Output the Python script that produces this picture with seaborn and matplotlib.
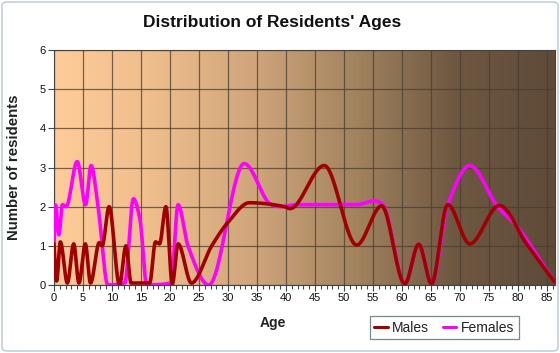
import numpy as np
import pandas as pd
import matplotlib
matplotlib.use("Agg")
import matplotlib.pyplot as plt
import seaborn as sns
from matplotlib.patches import FancyBboxPatch
from matplotlib.colors import LinearSegmentedColormap

# ---- data (key points: age, number of residents) ----
male_ages = [0, 0.45, 1.1, 2.3, 3.4, 4.3, 5.4, 6.3, 7.8, 8.3, 9.5, 11.3, 12.4, 13.3,
             16.5, 17.5, 18.2, 19.3, 20.4, 21.4, 23.7, 27.2, 30.0, 33.7, 39.8, 40.7,
             46.6, 52.2, 56.5, 60.5, 62.9, 65.1, 67.9, 71.7, 76.8, 81.5, 86.3]
male_counts = [1.05, 0.1, 1.1, 0.05, 1.05, 0.05, 1.05, 0.05, 1.08, 1.0, 2.0, 0.0, 1.0, 0.05,
               0.05, 1.1, 1.05, 2.0, 0.02, 1.05, 0.05, 1.0, 1.6, 2.1, 2.0, 1.95,
               3.05, 1.02, 2.02, 0.03, 1.04, 0.03, 2.05, 1.05, 2.03, 1.05, 0.08]

female_ages = [0, 0.25, 0.85, 1.45, 2.1, 4.0, 5.45, 6.4, 7.6, 9.3, 12.2, 13.7, 14.8,
               16.0, 20.2, 21.4, 23.1, 26.7, 32.8, 37.5, 39.2, 41.8, 52.1, 55.3, 56.7,
               60.5, 62.9, 65.1, 67.9, 71.7, 76.5, 79.5, 86.3]
female_counts = [1.0, 2.05, 1.28, 2.05, 2.0, 3.15, 2.05, 3.05, 2.0, 0.0, 0.05, 2.2, 1.7,
                 0.0, 0.05, 2.05, 1.0, 0.0, 3.1, 2.05, 2.0, 2.05, 2.05, 2.15, 2.05,
                 0.03, 1.04, 0.03, 2.05, 3.05, 2.0, 1.55, 0.08]

x_ticks = list(range(0, 90, 5))
y_ticks = list(range(0, 7))
title = "Distribution of Residents' Ages"
x_label = "Age"
y_label = "Number of residents"
series_names = ["Males", "Females"]
series_colors = {"Males": "#a00000", "Females": "#ff00ff"}


def pchip(x, y, xs):
    x = np.asarray(x, float)
    y = np.asarray(y, float)
    h = np.diff(x)
    d = np.diff(y) / h
    n = len(x)
    m = np.zeros(n)
    for k in range(1, n - 1):
        if d[k - 1] * d[k] > 0:
            w1 = 2 * h[k] + h[k - 1]
            w2 = h[k] + 2 * h[k - 1]
            m[k] = (w1 + w2) / (w1 / d[k - 1] + w2 / d[k])
    m[0] = d[0]
    m[-1] = d[-1]
    idx = np.clip(np.searchsorted(x, xs) - 1, 0, n - 2)
    t = (xs - x[idx]) / h[idx]
    h00 = 2 * t**3 - 3 * t**2 + 1
    h10 = t**3 - 2 * t**2 + t
    h01 = -2 * t**3 + 3 * t**2
    h11 = t**3 - t**2
    return (h00 * y[idx] + h10 * h[idx] * m[idx] + h01 * y[idx + 1]
            + h11 * h[idx] * m[idx + 1])


frames = []
for name, ages, counts in [("Females", female_ages, female_counts),
                           ("Males", male_ages, male_counts)]:
    xs = np.linspace(ages[0], ages[-1], 1500)
    frames.append(pd.DataFrame({"Age": xs, "Count": pchip(ages, counts, xs),
                                "Sex": name}))
df = pd.concat(frames, ignore_index=True)

sns.set_theme(style="white")
plt.rcParams["font.family"] = ["Liberation Sans", "DejaVu Sans"]

W, H = 560, 353
fig = plt.figure(figsize=(W / 100, H / 100), dpi=100, facecolor="white")
ax = fig.add_axes([54 / W, 1 - 285 / H, (555 - 54) / W, (285 - 50) / H])

xmax = 86.4
# background gradient
cmap = LinearSegmentedColormap.from_list(
    "bg", ["#ffcc99", "#eebd8c", "#cfa57b", "#a3845f", "#6e5842", "#5e4b38"])
grad = np.linspace(0, 1, 256).reshape(1, -1)
ax.imshow(grad, cmap=cmap, aspect="auto", extent=[0, xmax, 0, 6], zorder=0)

for name in ["Females", "Males"]:
    sub = df[df["Sex"] == name]
    sns.lineplot(data=sub, x="Age", y="Count", color=series_colors[name],
                 linewidth=2.6, ax=ax, label=None, legend=False, zorder=3,
                 estimator=None, sort=False)

ax.set_xlim(0, xmax)
ax.set_ylim(0, 6)
ax.set_xticks(x_ticks)
ax.set_xticks(np.arange(0, 87, 1), minor=True)
ax.set_yticks(y_ticks)
ax.grid(True, which="major", color="#4a3d30", linewidth=0.9, alpha=0.75)
ax.set_axisbelow("line")
ax.tick_params(axis="x", which="major", length=4, width=0.8, color="#2f4f4f",
               labelsize=8, labelcolor="#111111", pad=2, bottom=True)
ax.tick_params(axis="x", which="minor", length=3, width=0.8, color="#2f4f4f",
               bottom=True)
ax.tick_params(axis="y", which="major", length=4, width=0.8, color="#2f4f4f",
               labelsize=8, labelcolor="#111111", pad=2, left=True)
for s in ax.spines.values():
    s.set_color("#444444")
    s.set_linewidth(0.8)
ax.set_xlabel("")
ax.set_ylabel("")

fig.text(272 / W, 1 - 22 / H, title, ha="center", va="center",
         fontsize=12.5, fontweight="bold", color="#111111")
fig.text(273 / W, 1 - 323 / H, x_label, ha="center", va="center",
         fontsize=10, fontweight="bold", color="#222222")
fig.text(14 / W, 1 - 167 / H, y_label, ha="center", va="center", rotation=90,
         fontsize=10.8, fontweight="bold", color="#222222")

handles = [plt.Line2D([], [], color=series_colors[n], linewidth=2.2)
           for n in series_names]
leg = fig.legend(handles, series_names, loc="center", ncol=2,
                 bbox_to_anchor=(444.5 / W, 1 - 327.5 / H), frameon=True,
                 fontsize=10, handlelength=0.95, handletextpad=0.35,
                 columnspacing=1.0, borderpad=0.3, borderaxespad=0,
                 fancybox=False)
leg.get_frame().set_edgecolor("#4f6f6f")
leg.get_frame().set_linewidth(0.9)
for t in leg.get_texts():
    t.set_color("#222222")

border = FancyBboxPatch((2 / W, 2 / H), 1 - 4 / W, 1 - 4 / H,
                        boxstyle="round,pad=0,rounding_size=0.01",
                        transform=fig.transFigure, fill=False,
                        edgecolor="#b8c8d0", linewidth=1.0)
fig.patches.append(border)

fig.savefig("out.png", dpi=100, facecolor="white")
